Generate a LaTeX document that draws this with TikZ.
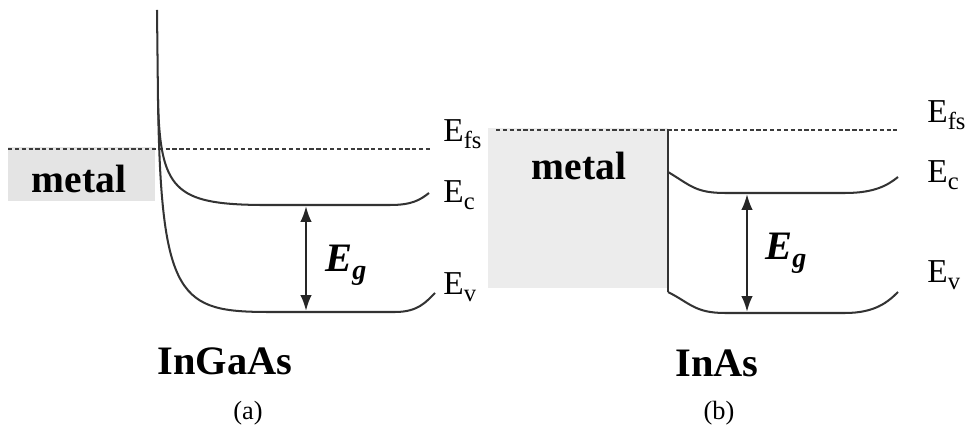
\documentclass[tikz,border=0pt]{standalone}
\usepackage{fontspec}
\setmainfont{Liberation Serif}
\usetikzlibrary{arrows.meta}
\definecolor{metalA}{RGB}{228,228,228}
\definecolor{metalB}{RGB}{236,236,236}
\definecolor{fermi}{RGB}{60,60,60}
\newcommand{\lvl}[1]{E\raisebox{-3.8pt}{\fontsize{14}{14}\selectfont #1}}
\newcommand{\gapE}{\textbf{\textit{E}}\raisebox{-4.5pt}{\fontsize{16}{16}\selectfont\bfseries\itshape g}}

\begin{document}
\begin{tikzpicture}[x=0.02cm,y=-0.02cm,>={Latex[length=9pt,width=6.5pt]},
  band/.style={line width=1.15pt,black!80},
  fermiline/.style={line width=1.1pt,fermi,dash pattern=on 2.4pt off 1.5pt},
  lvlname/.style={anchor=base west,inner sep=0pt,font=\fontsize{19}{19}\selectfont},
  metaltxt/.style={anchor=base,inner sep=0pt,font=\fontsize{22.5}{22.5}\selectfont\bfseries},
  semi/.style={anchor=base,inner sep=0pt,font=\fontsize{23}{23}\selectfont\bfseries},
  sub/.style={anchor=base,inner sep=0pt,font=\fontsize{15}{15}\selectfont},
  gapdim/.style={<->,line width=1.3pt,black!85}]
  \useasboundingbox (0,0) rectangle (976,428);

  % (a) InGaAs
  \fill[metalA] (8,147) rectangle (155,201);
  \draw[fermiline] (8,149) -- (430,149);
  \draw[band] (157,10) -- (158,100);
  \draw[band] (158,100) .. controls (160,190) and (175,204) .. (260,205) -- (390,205)
    .. controls (412,205) and (420,200) .. (429,193);
  \draw[band] (158,100) .. controls (161,300) and (180,312) .. (270,312) -- (395,312)
    .. controls (418,312) and (426,302) .. (435,293);
  \node[metaltxt] (metalA) at (79,193) {metal};
  \node[lvlname] (efsA) at (443,142) {\lvl{fs}};
  \node[lvlname] (ecA) at (443,203) {\lvl{c}};
  \node[lvlname] (evA) at (443,295) {\lvl{v}};
  \coordinate (topA) at (306,206);
  \coordinate (botA) at (306,311);
  \draw[gapdim] (topA) -- (botA);
  \node[anchor=base west,inner sep=0pt,font=\fontsize{23}{23}\selectfont] (egA) at (325,272) {\gapE};
  \node[semi] (ingaas) at (225,375) {InGaAs};
  \node[sub] (capA) at (248,419) {(a)};

  % (b) InAs
  \fill[metalB] (488,128) rectangle (668,288);
  \draw[fermiline] (496,130) -- (897,130);
  \draw[band,line width=1.5pt] (668,129) -- (668,292);
  \draw[band] (668,172) .. controls (690,185) and (695,193) .. (725,193) -- (845,193)
    .. controls (875,193) and (888,185) .. (898,177);
  \draw[band] (668,292) .. controls (690,303) and (695,313) .. (725,313) -- (845,313)
    .. controls (875,313) and (888,302) .. (898,292);
  \node[metaltxt] (metalB) at (579,180) {metal};
  \node[lvlname] (efsB) at (927,123) {\lvl{fs}};
  \node[lvlname] (ecB) at (927,183) {\lvl{c}};
  \node[lvlname] (evB) at (927,283) {\lvl{v}};
  \coordinate (topB) at (747,194);
  \coordinate (botB) at (747,312);
  \draw[gapdim] (topB) -- (botB);
  \node[anchor=base west,inner sep=0pt,font=\fontsize{23}{23}\selectfont] (egB) at (765,260) {\gapE};
  \node[semi] (inas) at (717,377) {InAs};
  \node[sub] (capB) at (719,419) {(b)};
\end{tikzpicture}
\end{document}
